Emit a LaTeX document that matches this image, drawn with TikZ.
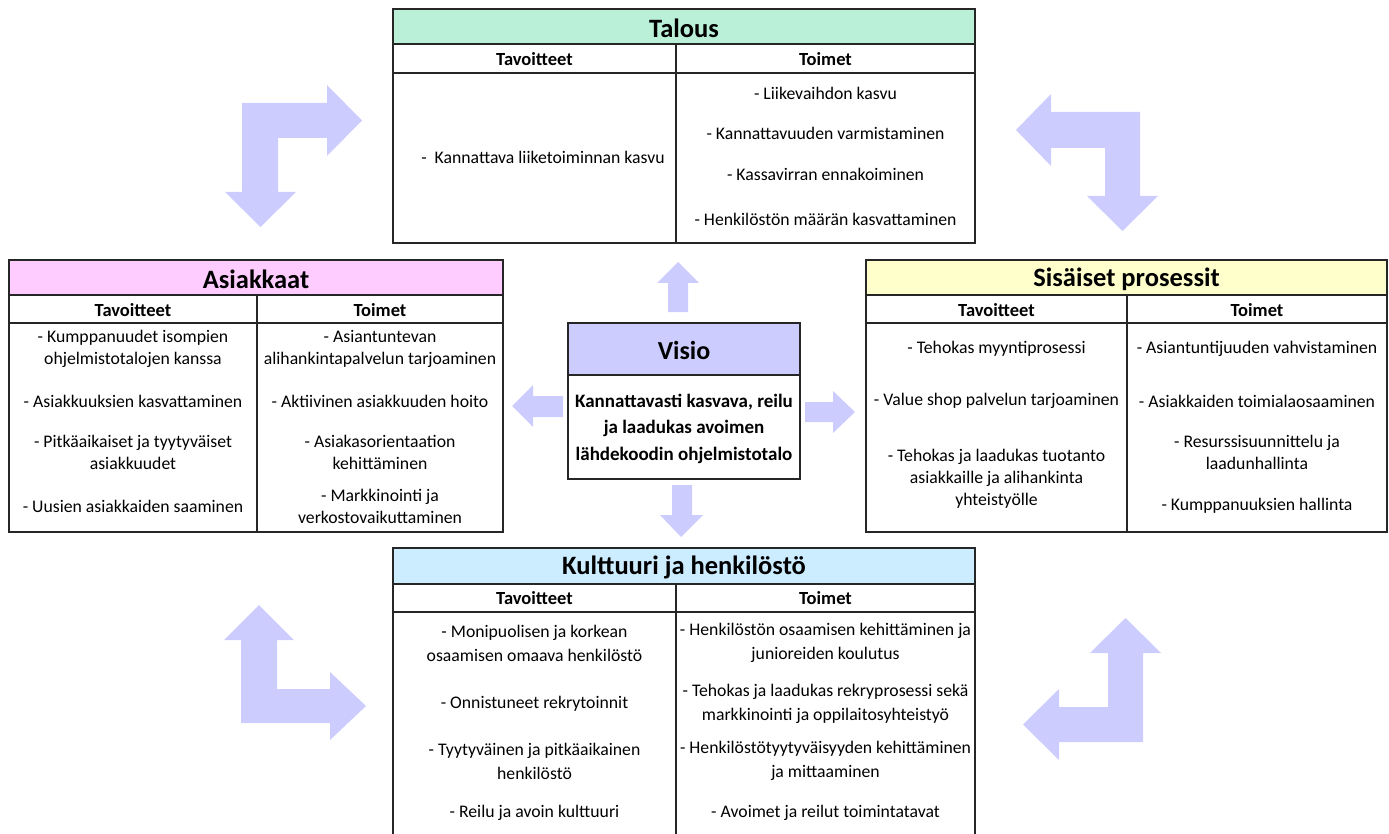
\documentclass[tikz,border=0pt]{standalone}
\usepackage{fontspec}
\setmainfont{Carlito}

\definecolor{talousgreen}{RGB}{185,240,215}
\definecolor{asiakaspink}{RGB}{255,204,255}
\definecolor{prosessiyellow}{RGB}{255,255,204}
\definecolor{kulttuuriblue}{RGB}{204,236,255}
\definecolor{visioviolet}{RGB}{204,204,255}
\definecolor{arrowblue}{RGB}{204,204,255}

\begin{document}
\begin{tikzpicture}[x=1pt,y=-1pt,
  frame/.style={draw=black!85,line width=1.1pt},
  title/.style={font=\fontsize{26.5}{30}\selectfont\bfseries,inner sep=0pt},
  colhead/.style={font=\fontsize{18.5}{21}\selectfont\bfseries,inner sep=0pt},
  item/.style={font=\fontsize{17.7}{22}\selectfont,align=center,inner sep=0pt},
  blockarrow/.style={fill=arrowblue}]

\useasboundingbox (0,0) rectangle (1389,834);

% Talous
\filldraw[frame,fill=talousgreen] (393,9) rectangle (975,44);
\draw[frame] (393,44) rectangle (975,243);
\draw[frame] (393,73) -- (975,73) (676,44) -- (676,243);
\node[title] (talous) at (684,28) {Talous};
\node[colhead] (talous-tav) at (534.5,59) {Tavoitteet};
\node[colhead] (talous-toi) at (825.5,59) {Toimet};
\node[item] (t1) at (543,157) {-\ \ Kannattava liiketoiminnan kasvu};
\node[item] (t2) at (825.5,93) {- Liikevaihdon kasvu};
\node[item] (t3) at (825.5,133) {- Kannattavuuden varmistaminen};
\node[item] (t4) at (825.5,174) {- Kassavirran ennakoiminen};
\node[item] (t5) at (825.5,219) {- Henkilöstön määrän kasvattaminen};

% Asiakkaat
\filldraw[frame,fill=asiakaspink] (9,260) rectangle (503,295);
\draw[frame] (9,295) rectangle (503,532);
\draw[frame] (9,323) -- (503,323) (257,295) -- (257,532);
\node[title] (asiakkaat) at (256,279) {Asiakkaat};
\node[colhead] (asiakkaat-tav) at (133,310) {Tavoitteet};
\node[colhead] (asiakkaat-toi) at (380,310) {Toimet};
\node[item] (a1) at (133,349) {- Kumppanuudet isompien\\ohjelmistotalojen kanssa};
\node[item] (a2) at (133,401) {- Asiakkuuksien kasvattaminen};
\node[item] (a3) at (133,452.5) {- Pitkäaikaiset ja tyytyväiset\\asiakkuudet};
\node[item] (a4) at (133,506) {- Uusien asiakkaiden saaminen};
\node[item] (a5) at (380,349) {- Asiantuntevan\\alihankintapalvelun tarjoaminen};
\node[item] (a6) at (380,401) {- Aktiivinen asiakkuuden hoito};
\node[item] (a7) at (380,452.5) {- Asiakasorientaation\\kehittäminen};
\node[item] (a8) at (380,506) {- Markkinointi ja\\verkostovaikuttaminen};

% Sisaiset prosessit
\filldraw[frame,fill=prosessiyellow] (866,260) rectangle (1387,295);
\draw[frame] (866,295) rectangle (1387,532);
\draw[frame] (866,323) -- (1387,323) (1127,295) -- (1127,532);
\node[title] (prosessit) at (1126.5,279) {Sisäiset prosessit};
\node[colhead] (prosessit-tav) at (996.5,310) {Tavoitteet};
\node[colhead] (prosessit-toi) at (1257,310) {Toimet};
\node[item] (s1) at (996.5,349) {- Tehokas myyntiprosessi};
\node[item] (s2) at (996.5,401) {- Value shop palvelun tarjoaminen};
\node[item] (s3) at (996.5,479) {- Tehokas ja laadukas tuotanto\\asiakkaille ja alihankinta\\yhteistyölle};
\node[item] (s4) at (1257,349) {- Asiantuntijuuden vahvistaminen};
\node[item] (s5) at (1257,401) {- Asiakkaiden toimialaosaaminen};
\node[item] (s6) at (1257,452.5) {- Resurssisuunnittelu ja\\laadunhallinta};
\node[item] (s7) at (1257,506) {- Kumppanuuksien hallinta};

% Visio
\filldraw[frame,fill=visioviolet] (568,323) rectangle (800,375);
\draw[frame] (568,375) rectangle (800,479);
\node[title,font=\fontsize{26}{30}\selectfont\bfseries] (visio) at (684,350) {Visio};
\node[item,font=\fontsize{19}{26.5}\selectfont\bfseries] (visioteksti) at (684,428.5)
  {Kannattavasti kasvava, reilu\\ja laadukas avoimen\\lähdekoodin ohjelmistotalo};

% Kulttuuri ja henkilosto
\filldraw[frame,fill=kulttuuriblue] (393,548) rectangle (975,584);
\draw[frame] (393,584) rectangle (975,860);
\draw[frame] (393,612) -- (975,612) (676,584) -- (676,860);
\node[title] (kulttuuri) at (684,567) {Kulttuuri ja henkilöstö};
\node[colhead] (kulttuuri-tav) at (534.5,598) {Tavoitteet};
\node[colhead] (kulttuuri-toi) at (825.5,598) {Toimet};
\node[item,font=\fontsize{17.7}{24}\selectfont] (k1) at (534.5,643) {- Monipuolisen ja korkean\\osaamisen omaava henkilöstö};
\node[item] (k2) at (534.5,704) {- Onnistuneet rekrytoinnit};
\node[item,font=\fontsize{17.7}{24}\selectfont] (k3) at (534.5,761) {- Tyytyväinen ja pitkäaikainen\\henkilöstö};
\node[item] (k4) at (534.5,813) {- Reilu ja avoin kulttuuri};
\node[item,font=\fontsize{17.7}{24}\selectfont] (k5) at (825.5,643) {- Henkilöstön osaamisen kehittäminen ja\\junioreiden koulutus};
\node[item,font=\fontsize{17.7}{24}\selectfont] (k6) at (825.5,704) {- Tehokas ja laadukas rekryprosessi sekä\\markkinointi ja oppilaitosyhteistyö};
\node[item,font=\fontsize{17.7}{24}\selectfont] (k7) at (825.5,761) {- Henkilöstötyytyväisyyden kehittäminen\\ja mittaaminen};
\node[item] (k8) at (825.5,813) {- Avoimet ja reilut toimintatavat};

% arrows out of Visio
\fill[blockarrow] (678,262) -- (699,283) -- (688,283) -- (688,312) -- (668,312) -- (668,283) -- (657,283) -- cycle;
\fill[blockarrow] (681,537) -- (703,515) -- (692,515) -- (692,485) -- (672,485) -- (672,515) -- (660,515) -- cycle;
\fill[blockarrow] (512,406) -- (533,385) -- (533,396) -- (563,396) -- (563,417) -- (533,417) -- (533,427) -- cycle;
\fill[blockarrow] (855,412) -- (833,391) -- (833,402) -- (805,402) -- (805,422) -- (833,422) -- (833,433) -- cycle;

% bent arrows round the corners
\fill[blockarrow] (260.5,227) -- (296,192) -- (278,192) -- (278,138) -- (327,138) -- (327,156)
  -- (362,120.5) -- (327,85) -- (327,103) -- (242,103) -- (242,192) -- (225,192) -- cycle;
\fill[blockarrow] (1016,130) -- (1051,94) -- (1051,112) -- (1140,112) -- (1140,196) -- (1158,196)
  -- (1122.5,231) -- (1087,196) -- (1105,196) -- (1105,148) -- (1051,148) -- (1051,166) -- cycle;
\fill[blockarrow] (259,605) -- (294,640) -- (277,640) -- (277,689) -- (330,689) -- (330,672)
  -- (366,706) -- (330,740) -- (330,723) -- (241,723) -- (241,640) -- (224,640) -- cycle;
\fill[blockarrow] (1125.5,618) -- (1161,653) -- (1143,653) -- (1143,742) -- (1059,742) -- (1059,760)
  -- (1023,724.5) -- (1059,689) -- (1059,707) -- (1108,707) -- (1108,653) -- (1090,653) -- cycle;
\end{tikzpicture}
\end{document}
